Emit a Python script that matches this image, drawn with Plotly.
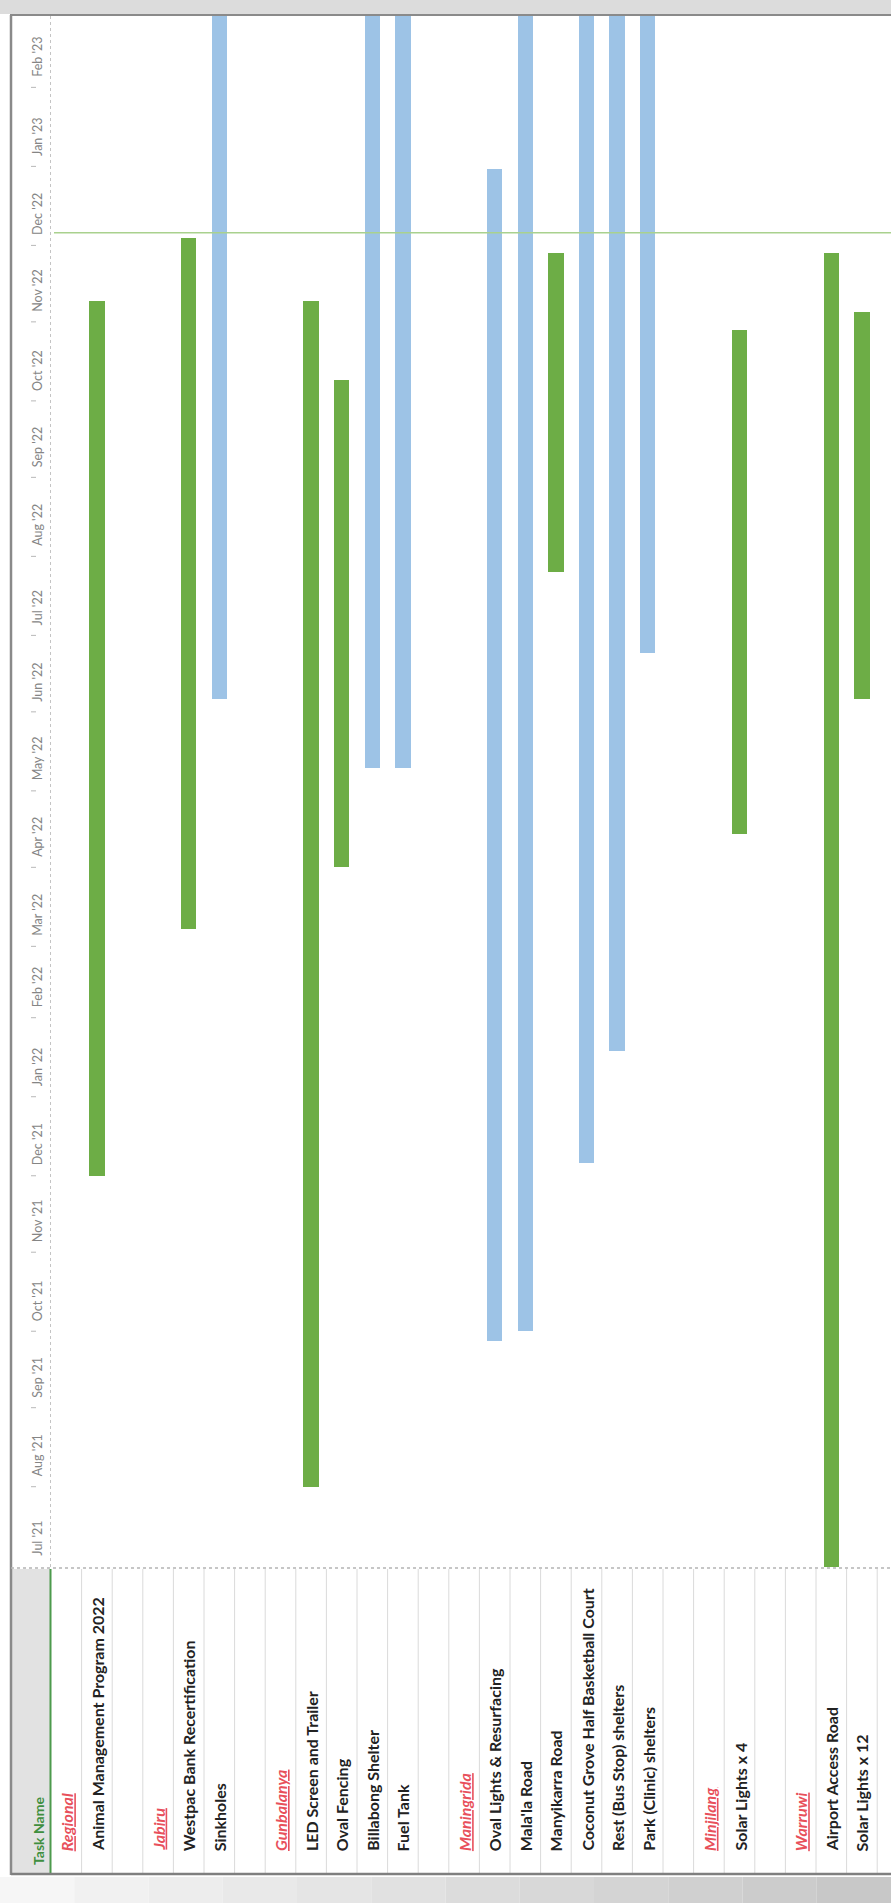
import pandas as pd
import plotly.graph_objects as go

W, H = 891, 1903

# Row order of the task table (blank strings are spacer rows)
rows = [
    "Regional", "Animal Management Program 2022", "",
    "Jabiru", "Westpac Bank Recertification", "Sinkholes", "",
    "Gunbalanya", "LED Screen and Trailer", "Oval Fencing", "Billabong Shelter", "Fuel Tank", "",
    "Maningrida", "Oval Lights & Resurfacing", "Mala'la Road", "Manyikarra Road",
    "Coconut Grove Half Basketball Court", "Rest (Bus Stop) shelters", "Park (Clinic) shelters", "",
    "Minjilang", "Solar Lights x 4", "",
    "Warruwi", "Airport Access Road", "Solar Lights x 12", "",
]
groups = ["Regional", "Jabiru", "Gunbalanya", "Maningrida", "Minjilang", "Warruwi"]

# Task schedule
tasks = [
    "Animal Management Program 2022", "Westpac Bank Recertification", "Sinkholes",
    "LED Screen and Trailer", "Oval Fencing", "Billabong Shelter", "Fuel Tank",
    "Oval Lights & Resurfacing", "Mala'la Road", "Manyikarra Road",
    "Coconut Grove Half Basketball Court", "Rest (Bus Stop) shelters", "Park (Clinic) shelters",
    "Solar Lights x 4", "Airport Access Road", "Solar Lights x 12",
]
starts = [
    "2021-12-01", "2022-03-08", "2022-06-06",
    "2021-08-01", "2022-04-01", "2022-05-10", "2022-05-10",
    "2021-09-27", "2021-10-01", "2022-07-26",
    "2021-12-06", "2022-01-19", "2022-06-24",
    "2022-04-14", "2021-06-01", "2022-06-06",
]
finishes = [
    "2022-11-09", "2022-12-04", "2023-06-30",
    "2022-11-09", "2022-10-09", "2023-06-30", "2023-06-30",
    "2022-12-31", "2023-06-30", "2022-11-28",
    "2023-06-30", "2023-06-30", "2023-06-30",
    "2022-10-29", "2022-11-28", "2022-11-05",
]
kind = [
    "green", "green", "blue",
    "green", "green", "blue", "blue",
    "blue", "blue", "green",
    "blue", "blue", "blue",
    "green", "green", "green",
]

month_labels = ["Jul '21", "Aug '21", "Sep '21", "Oct '21", "Nov '21", "Dec '21",
                "Jan '22", "Feb '22", "Mar '22", "Apr '22", "May '22", "Jun '22",
                "Jul '22", "Aug '22", "Sep '22", "Oct '22", "Nov '22", "Dec '22",
                "Jan '23", "Feb '23"]
month_starts = pd.date_range("2021-07-01", periods=len(month_labels), freq="MS")
status_date = "2022-12-06"

COLORS = {"green": "#6dad46", "blue": "#9dc3e6"}
FONT = "Lato"

# Plot-area geometry in pixels
PL, PR, PT, PB = 51, 891, 16, 1567


def px_x(px):
    # pixel -> paper fraction (margins are zero, so paper spans the whole figure)
    return px / W


def px_y(py):
    return (H - py) / H


fig = go.Figure()

df = pd.DataFrame({"task": tasks, "start": pd.to_datetime(starts),
                   "finish": pd.to_datetime(finishes), "kind": kind})
df["pos"] = [rows.index(t) for t in df["task"]]
df["dur"] = (df["finish"] - df["start"]).dt.total_seconds() * 1000

for k in ["green", "blue"]:
    d = df[df["kind"] == k]
    fig.add_trace(go.Bar(
        x=d["pos"], y=d["dur"], base=d["start"].dt.strftime("%Y-%m-%d"),
        width=0.5, marker=dict(color=COLORS[k], line=dict(width=0)),
        showlegend=False, hoverinfo="skip",
    ))

shapes = []
# top band and frame
shapes.append(dict(type="rect", xref="paper", yref="paper", x0=0, x1=1,
                   y0=px_y(14), y1=1, fillcolor="#dcdcdc", line_width=0, layer="below"))
shapes.append(dict(type="line", xref="paper", yref="paper", x0=px_x(10), x1=1,
                   y0=px_y(15), y1=px_y(15), line=dict(color="#8a8a8a", width=2)))
shapes.append(dict(type="line", xref="paper", yref="paper", x0=px_x(11), x1=px_x(11),
                   y0=px_y(15), y1=px_y(1875), line=dict(color="#8a8a8a", width=2.5)))
# timescale column border
shapes.append(dict(type="line", xref="paper", yref="paper", x0=px_x(50.5), x1=px_x(50.5),
                   y0=px_y(PT), y1=px_y(PB), line=dict(color="#c4c4c4", width=1, dash="dot")))
# month separators in the timescale column
for m in month_starts[1:]:
    shapes.append(dict(type="line", xref="paper", yref="y", x0=px_x(31), x1=px_x(36),
                       y0=m, y1=m, line=dict(color="#b8b8b8", width=1)))
# status date line
shapes.append(dict(type="line", xref="paper", yref="y", x0=px_x(54), x1=1,
                   y0=status_date, y1=status_date, line=dict(color="#a9d18e", width=1.5)))
# task table
shapes.append(dict(type="rect", xref="paper", yref="paper", x0=px_x(12), x1=px_x(50),
                   y0=px_y(1873), y1=px_y(1569), fillcolor="#e2e2e2", line_width=0, layer="below"))
for i in range(len(rows)):
    shapes.append(dict(type="line", xref="x", yref="paper", x0=i + 0.5, x1=i + 0.5,
                       y0=px_y(1873), y1=px_y(1569), line=dict(color="#dadada", width=1)))
shapes.append(dict(type="line", xref="paper", yref="paper", x0=px_x(50.5), x1=px_x(50.5),
                   y0=px_y(1873), y1=px_y(1569), line=dict(color="#4d9a4d", width=2)))
shapes.append(dict(type="line", xref="paper", yref="paper", x0=px_x(11), x1=1,
                   y0=px_y(1568), y1=px_y(1568), line=dict(color="#b4b4b4", width=1.5, dash="dot")))
shapes.append(dict(type="line", xref="paper", yref="paper", x0=px_x(11), x1=1,
                   y0=px_y(1874), y1=px_y(1874), line=dict(color="#7f7f7f", width=2.5)))
# bottom band shading
n = 12
for i in range(n):
    g = int(246 - (246 - 200) * i / (n - 1))
    shapes.append(dict(type="rect", xref="paper", yref="paper",
                       x0=i / n, x1=(i + 1) / n,
                       y0=0, y1=px_y(1877), fillcolor=f"rgb({g},{g},{g})",
                       line_width=0, layer="below"))

annotations = []
# month labels
for lab, m in zip(month_labels, month_starts):
    annotations.append(dict(text=lab, xref="paper", yref="y", x=px_x(37.5), y=m,
                            yshift=8, xanchor="center", yanchor="bottom", textangle=-90,
                            showarrow=False, font=dict(family=FONT, size=12.5, color="#858585")))
# table header
annotations.append(dict(text="<b>Task Name</b>", xref="paper", yref="paper", x=px_x(38),
                        y=px_y(1867), xanchor="center", yanchor="bottom", textangle=-90,
                        showarrow=False, font=dict(family=FONT, size=14, color="#3f8f3f")))
# task names
for i, name in enumerate(rows):
    if not name:
        continue
    if name in groups:
        text = f"<u><i><b>{name}</b></i></u>"
        color = "#e8505b"
    else:
        text = f"<b>{name}</b>"
        color = "#222222"
    annotations.append(dict(text=text, xref="x", yref="paper", x=i, y=px_y(1853),
                            xanchor="center", yanchor="bottom", textangle=-90,
                            showarrow=False, font=dict(family=FONT, size=16, color=color)))

fig.update_layout(
    width=W, height=H, margin=dict(l=0, r=0, t=0, b=0),
    paper_bgcolor="white", plot_bgcolor="white",
    bargap=0, barmode="overlay",
    xaxis=dict(domain=[PL / W, 1], range=[-0.5, -0.5 + (PR - PL) / 30.6],
               showticklabels=False, showgrid=False, zeroline=False, fixedrange=True),
    yaxis=dict(type="date", domain=[(H - PB) / H, (H - PT) / H],
               range=["2021-06-30 12:00", "2023-03-01"],
               showticklabels=False, showgrid=False, zeroline=False, fixedrange=True),
    shapes=shapes, annotations=annotations,
)

fig.write_html("out.html")
